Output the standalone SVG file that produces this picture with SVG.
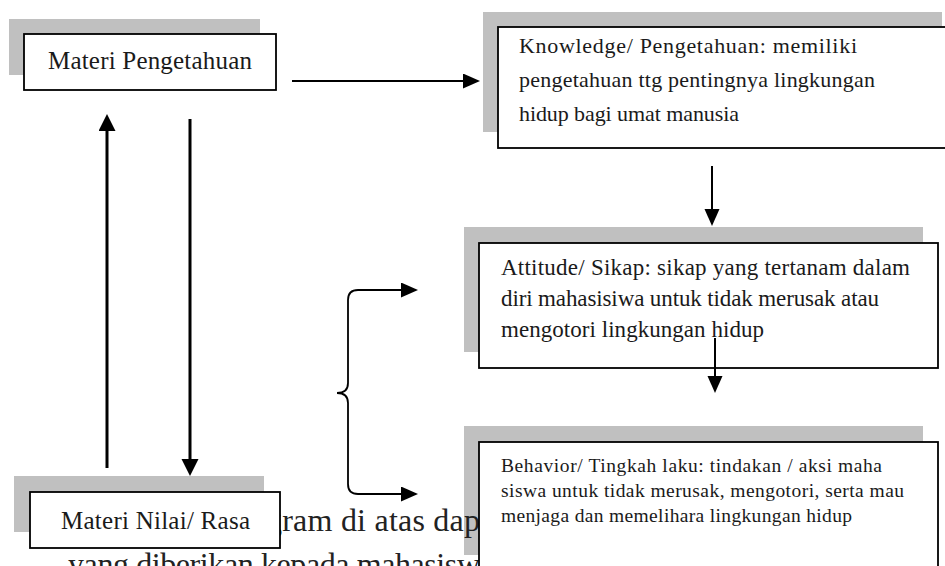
<svg xmlns="http://www.w3.org/2000/svg" width="945" height="566" viewBox="0 0 945 566">
<defs>
<style>
.sh{fill:#c0c0c0;stroke:none}
.bx{fill:#fff;stroke:#000;stroke-width:1.8}
.t{font-family:"Liberation Serif","Times New Roman",serif;fill:#1a1a1a}
.body{font-family:"Liberation Serif","Times New Roman",serif;fill:#222;font-size:32px}
.c{fill:none;stroke:#000}
</style>
<marker id="ah" markerUnits="userSpaceOnUse" markerWidth="17" markerHeight="16" refX="1" refY="7.5" orient="auto">
<path d="M0,0 L17,7.5 L0,15 z" fill="#000"/>
</marker>
<marker id="ahb" markerUnits="userSpaceOnUse" markerWidth="17" markerHeight="18" refX="1" refY="8.5" orient="auto">
<path d="M0,0 L17,8.5 L0,17 z" fill="#000"/>
</marker>
</defs>
<rect width="945" height="566" fill="#fff"/>

<!-- shadows -->
<rect class="sh" x="9" y="19" width="251" height="56"/>
<rect class="sh" x="483" y="12" width="459" height="120"/>
<rect class="sh" x="464" y="227" width="459" height="125"/>
<rect class="sh" x="464" y="426" width="459" height="129"/>
<rect class="sh" x="14" y="476" width="250" height="56"/>

<!-- background body text -->
<text class="body" x="266" y="531" textLength="214">gram di atas dap</text>
<text class="body" x="68" y="575" textLength="412">yang diberikan kepada mahasisw</text>

<g id="materi-pengetahuan">
<rect class="bx" x="24" y="34" width="252" height="56"/>
<text class="t" x="48" y="69" font-size="25" textLength="204">Materi Pengetahuan</text>
</g>

<g id="knowledge">
<rect class="bx" x="498" y="27" width="460" height="121"/>
<text class="t" font-size="22" x="519" y="53" textLength="338">Knowledge/ Pengetahuan: memiliki</text>
<text class="t" font-size="22" x="519" y="87" textLength="356">pengetahuan ttg pentingnya lingkungan</text>
<text class="t" font-size="22" x="519" y="121" textLength="220">hidup bagi umat manusia</text>
</g>

<g id="attitude">
<rect class="bx" x="479" y="243" width="459" height="125"/>
<text class="t" font-size="23" x="501" y="275" textLength="409">Attitude/ Sikap: sikap yang tertanam dalam</text>
<text class="t" font-size="23" x="501" y="306" textLength="378">diri mahasisiwa untuk tidak merusak atau</text>
<text class="t" font-size="23" x="501" y="337" textLength="263">mengotori lingkungan hidup</text>
</g>

<g id="behavior">
<rect class="bx" x="479" y="442" width="459" height="140"/>
<text class="t" font-size="19.5" x="501" y="472" textLength="381">Behavior/ Tingkah laku: tindakan / aksi maha</text>
<text class="t" font-size="19.5" x="501" y="497" textLength="403">siswa untuk tidak merusak, mengotori, serta mau</text>
<text class="t" font-size="19.5" x="501" y="522" textLength="351">menjaga dan memelihara lingkungan hidup</text>
</g>

<g id="materi-nilai">
<rect class="bx" x="30" y="492" width="250" height="56"/>
<text class="t" x="61" y="529" font-size="25" textLength="189">Materi Nilai/ Rasa</text>
</g>

<g id="connectors">
<line class="c" stroke-width="2" x1="292" y1="81" x2="464" y2="81" marker-end="url(#ah)"/>
<line class="c" stroke-width="3" x1="107" y1="468" x2="107" y2="130" marker-end="url(#ahb)"/>
<line class="c" stroke-width="3" x1="190" y1="119" x2="190" y2="460" marker-end="url(#ahb)"/>
<line class="c" stroke-width="2" x1="712" y1="166" x2="712" y2="210" marker-end="url(#ah)"/>
<line class="c" stroke-width="2" x1="715" y1="338" x2="715" y2="377" marker-end="url(#ah)"/>
<path class="c" stroke-width="1.8" d="M337,393 Q348,393 348,383 L348,300 Q348,290 358,290 L402,290" marker-end="url(#ah)"/>
<path class="c" stroke-width="1.8" d="M337,393 Q348,393 348,403 L348,484 Q348,494 358,494 L402,494" marker-end="url(#ah)"/>
</g>
</svg>
